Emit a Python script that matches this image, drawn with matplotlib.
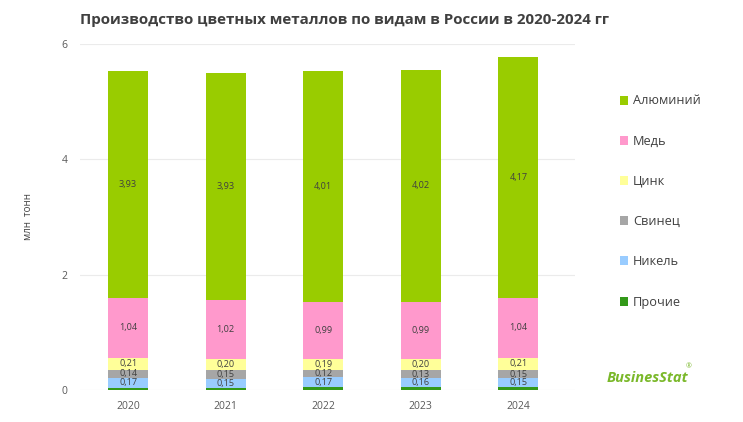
import matplotlib
matplotlib.use("Agg")
import matplotlib.pyplot as plt
import numpy as np

plt.rcParams['font.family'] = ['Open Sans', 'DejaVu Sans']

years = ['2020', '2021', '2022', '2023', '2024']
prochie = [0.04, 0.04, 0.05, 0.05, 0.05]
nikel = [0.17, 0.15, 0.17, 0.16, 0.15]
svinec = [0.14, 0.15, 0.12, 0.13, 0.15]
cink = [0.21, 0.20, 0.19, 0.20, 0.21]
med = [1.04, 1.02, 0.99, 0.99, 1.04]
aluminiy = [3.93, 3.93, 4.01, 4.02, 4.17]

series = [
    ('Прочие', prochie, '#339919', False),
    ('Никель', nikel, '#99CCFF', True),
    ('Свинец', svinec, '#A6A6A6', True),
    ('Цинк', cink, '#FFFF99', True),
    ('Медь', med, '#FF99CC', True),
    ('Алюминий', aluminiy, '#99CC00', True),
]

fig = plt.figure(figsize=(7.43, 4.22), dpi=100)
ax = fig.add_axes([0.108, 0.076, 0.666, 0.82])

x = np.arange(len(years))
bottom = np.zeros(len(years))
handles = []
for name, vals, color, labeled in series:
    bars = ax.bar(x, vals, 0.41, bottom=bottom, color=color, label=name, zorder=2)
    handles.append(bars)
    if labeled:
        ax.bar_label(bars, labels=[('%.2f' % v).replace('.', ',') for v in vals],
                     label_type='center', fontsize=6.6, color='#404040')
    bottom += np.array(vals)

ax.set_xlim(-0.49, 4.58)
ax.set_ylim(0, 6)
ax.set_yticks([0, 2, 4, 6])
ax.set_xticks(x)
ax.set_xticklabels(years)
ax.yaxis.grid(True, color='#EBEBEB', linewidth=0.8, zorder=0)
for s in ax.spines.values():
    s.set_visible(False)
ax.tick_params(length=0, labelsize=7.5, colors='#595959', pad=8)
ax.tick_params(axis='y', pad=9)
ax.set_ylabel('млн  тонн', fontsize=7, color='#404040', labelpad=20)

fig.text(80 / 743, 1 - 20 / 422, 'Производство цветных металлов по видам в России в 2020-2024 гг',
         fontsize=10.9, fontweight='bold', color='#404040', va='center')

leg = fig.legend(handles=handles[::-1], loc='upper left',
                 bbox_to_anchor=(608 / 743, 1 - 83 / 422), frameon=False,
                 handlelength=0.7, handleheight=0.7, handletextpad=0.35,
                 labelspacing=2.13, fontsize=9.2)
for t in leg.get_texts():
    t.set_color('#404040')

fig.text(607 / 743, 1 - 378 / 422, 'BusinesStat', fontsize=10.5, fontweight='bold',
         fontstyle='italic', color='#7AB829', va='center')
fig.text(686 / 743, 1 - 367 / 422, '®', fontsize=5, color='#7AB829', va='center')

fig.savefig('out.png', dpi=100)
